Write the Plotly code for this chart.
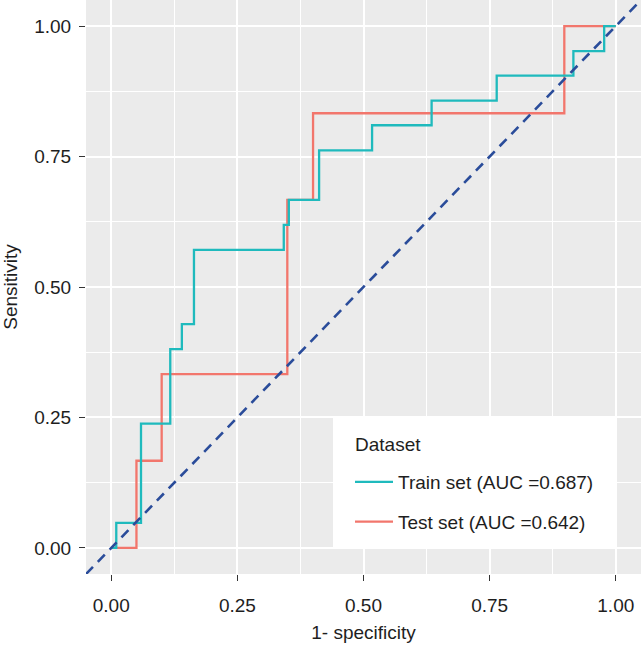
import plotly.graph_objects as go

# ROC curve data (1 - specificity, sensitivity)
train_fpr = [0.0, 0.010, 0.059, 0.117, 0.140, 0.164, 0.342, 0.352, 0.412, 0.517, 0.635, 0.764, 0.916, 0.977, 1.0]
train_tpr = [0.0, 0.048, 0.238, 0.381, 0.429, 0.571, 0.619, 0.667, 0.762, 0.810, 0.857, 0.905, 0.952, 1.0, 1.0]
test_fpr = [0.0, 0.050, 0.100, 0.349, 0.400, 0.898, 1.0]
test_tpr = [0.0, 0.167, 0.333, 0.667, 0.833, 1.0, 1.0]
ref_line = [-0.05, 1.05]

tick_vals = [0, 0.25, 0.5, 0.75, 1.0]
tick_text = ["0.00", "0.25", "0.50", "0.75", "1.00"]
train_label = "Train set (AUC =0.687)"
test_label = "Test set (AUC =0.642)"
legend_title = "Dataset"

TEAL = "#1FBABD"
RED = "#F2766C"
BLUE = "#2A4C9A"
FONT = "Liberation Sans, Arial, Helvetica, sans-serif"
TXT = "#1e1e1e"
FS = 19

fig = go.Figure()
fig.add_trace(go.Scatter(x=train_fpr, y=train_tpr, mode="lines", line=dict(color=TEAL, width=2.3, shape="hv"),
                         name=train_label, legendgroup="a", zorder=2))
fig.add_trace(go.Scatter(x=test_fpr, y=test_tpr, mode="lines", line=dict(color=RED, width=2.3, shape="hv"),
                         name=test_label, legendgroup="b", zorder=1))
fig.add_trace(go.Scatter(x=ref_line, y=ref_line, mode="lines", line=dict(color=BLUE, width=2.6, dash="10px,7px"),
                         showlegend=False, hoverinfo="skip", zorder=3))

axis_common = dict(
    range=[-0.05, 1.05], tickvals=tick_vals, ticktext=tick_text,
    showgrid=True, gridcolor="white", gridwidth=1.8,
    zeroline=False, showline=False, automargin=False,
    ticks="outside", ticklen=6, tickwidth=1.3, tickcolor="#333333",
    tickfont=dict(family=FONT, size=FS, color=TXT),
    minor=dict(tickmode="linear", tick0=0.125, dtick=0.25, showgrid=True, gridcolor="white", gridwidth=0.9, ticks=""),
)

fig.update_layout(
    width=642, height=645,
    margin=dict(l=86, r=1, t=0, b=71),
    paper_bgcolor="white", plot_bgcolor="#EBEBEB",
    font=dict(family=FONT, size=FS, color=TXT),
    xaxis=dict(**axis_common, ticklabelstandoff=8,
               title=dict(text="1- specificity", font=dict(family=FONT, size=FS, color=TXT), standoff=10)),
    yaxis=dict(**axis_common, ticklabelstandoff=4,
               title=dict(text="Sensitivity", font=dict(family=FONT, size=FS, color=TXT), standoff=14)),
    legend=dict(
        x=(350 - 86) / 555, y=(574 - 463) / 574, xanchor="left", yanchor="top",
        bgcolor="rgba(0,0,0,0)", borderwidth=0,
        font=dict(family=FONT, size=FS, color=TXT),
        traceorder="grouped", tracegroupgap=12,
        itemwidth=38,
    ),
    shapes=[dict(type="rect", xref="paper", yref="paper",
                 x0=(333 - 86) / 555, x1=(617 - 86) / 555,
                 y0=(574 - 548) / 574, y1=(574 - 418) / 574,
                 fillcolor="white", line=dict(width=0), layer="above")],
    annotations=[dict(text=legend_title, xref="paper", yref="paper",
                      x=(353 - 86) / 555, y=(574 - 444) / 574, xanchor="left", yanchor="middle",
                      showarrow=False, font=dict(family=FONT, size=FS, color=TXT))],
    showlegend=True,
)

fig.write_html("out.html", config={"displayModeBar": False},
               post_script="document.body.style.margin='0';document.body.style.overflow='hidden';")
